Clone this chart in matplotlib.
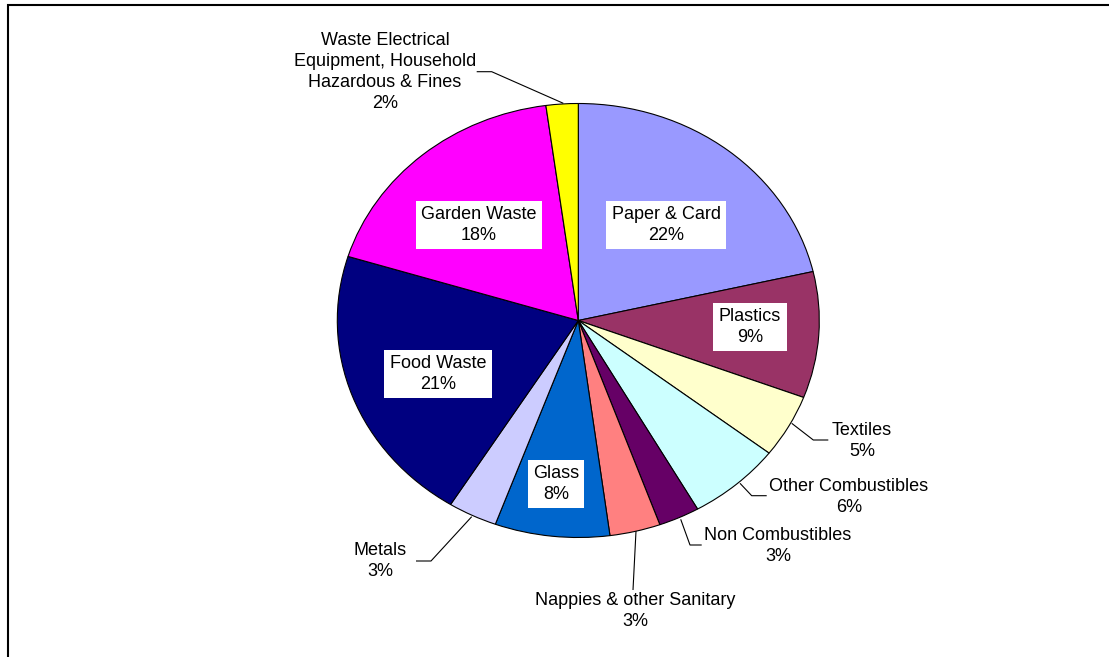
import matplotlib
matplotlib.use("Agg")
import matplotlib.pyplot as plt
from matplotlib.patches import Rectangle
import numpy as np

plt.rcParams['font.family'] = ['Liberation Sans', 'DejaVu Sans']

categories = ["Paper & Card", "Plastics", "Textiles", "Other Combustibles",
              "Non Combustibles", "Nappies & other Sanitary", "Glass", "Metals",
              "Food Waste", "Garden Waste",
              "Waste Electrical\nEquipment, Household\nHazardous & Fines"]
shares = [21.4, 9.4, 4.7, 6.3, 2.75, 3.4, 7.7, 3.3, 20.9, 18.1, 2.15]
pct_labels = [22, 9, 5, 6, 3, 3, 8, 3, 21, 18, 2]
colors = ["#9999FF", "#993366", "#FFFFCC", "#CCFFFF", "#660066", "#FF8080",
          "#0066CC", "#CCCCFF", "#000080", "#FF00FF", "#FFFF00"]

W, H = 1109, 657
fig = plt.figure(figsize=(W / 100, H / 100), dpi=100)
ax = fig.add_axes([0, 0, 1, 1])

# pixel geometry of the (slightly elliptical) pie
cx, cy = 578.3, 320.5
rx, ry = 241.0, 217.0


def px(x, y):
    """pixel (from top-left) -> data coords"""
    return (x - cx) / rx, (cy - y) / ry


ax.pie(shares, colors=colors, startangle=90, counterclock=False, radius=1.0,
       wedgeprops=dict(edgecolor="black", linewidth=0.8), normalize=True)
ax.set_aspect('auto')
x0, _ = px(0, 0)
x1, _ = px(W, 0)
_, ytop = px(0, 0)
_, ybot = px(0, H)
ax.set_xlim(x0, x1)
ax.set_ylim(ybot, ytop)
ax.axis('off')

labels = [f"{c}\n{p}%" for c, p in zip(categories, pct_labels)]
fs = 13
ls = 1.3

# inside labels (white boxes)
inside = {0: (666, 225), 1: (750, 327), 6: (556, 484), 8: (438, 374), 9: (479, 225)}
for i, (x, y) in inside.items():
    ax.text(*px(x, y), labels[i], ha='center', va='center', fontsize=fs,
            linespacing=ls, color='black',
            bbox=dict(boxstyle='square,pad=0.3', facecolor='white', edgecolor='none'))

# outside labels with leader lines
outside = {
    2: ((862, 441), [(791.7, 423.3), (813.3, 440), (828.3, 440)]),
    3: ((849, 497), [(740, 483.3), (751.7, 495.7), (766.7, 495.7)]),
    4: ((778, 546), [(680.7, 519.3), (690, 545), (701.7, 545)]),
    5: ((635, 611), [(636, 531), (633, 590)]),
    7: ((380, 561), [(471.7, 516.7), (431, 561), (416, 561)]),
    10: ((385, 72), [(563.3, 103.3), (491.7, 71.7), (476.7, 71.7)]),
}
for i, ((x, y), pts) in outside.items():
    ax.text(*px(x, y), labels[i], ha='center', va='center', fontsize=fs,
            linespacing=ls, color='black')
    xs, ys = zip(*[px(a, b) for a, b in pts])
    ax.plot(xs, ys, color='black', linewidth=0.8, solid_capstyle='butt')

# outer chart frame (extends past right and bottom edges)
fig.patches.append(Rectangle((8 / W, -0.1), 1.2, 1 - 4.7 / H + 0.1,
                             transform=fig.transFigure, fill=False,
                             edgecolor='black', linewidth=1.5))

fig.savefig("out.png", dpi=100)
